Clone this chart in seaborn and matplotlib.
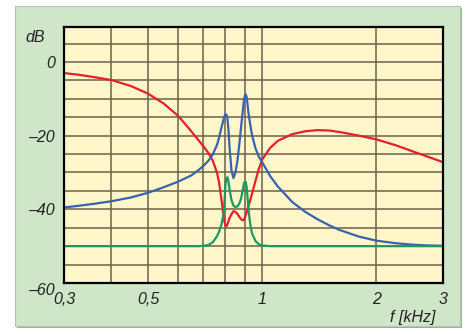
import numpy as np
import pandas as pd
import seaborn as sns
import matplotlib.pyplot as plt
from matplotlib.patches import Rectangle
from matplotlib.ticker import FixedLocator, FixedFormatter, NullLocator

# frequency points in kHz
freq = [0.30, 0.33, 0.36, 0.40, 0.45,
        0.50, 0.55, 0.60, 0.65, 0.68,
        0.70, 0.72, 0.74, 0.76, 0.77,
        0.78, 0.79, 0.795, 0.80, 0.805,
        0.81, 0.815, 0.82, 0.83, 0.84,
        0.85, 0.86, 0.87, 0.88, 0.89,
        0.895, 0.90, 0.905, 0.91, 0.915,
        0.92, 0.93, 0.94, 0.96, 0.98,
        1.00, 1.05, 1.10, 1.20, 1.30,
        1.40, 1.50, 1.60, 1.80, 2.00,
        2.25, 2.50, 2.75, 3.00]

red_db = [-3.0, -3.5, -4.1, -4.9, -6.5,
          -8.6, -11.3, -14.6, -18.8, -21.3,
          -22.9, -24.6, -26.7, -30.0, -32.8,
          -37.0, -41.5, -43.3, -44.4, -44.6,
          -44.0, -43.2, -42.4, -41.3, -40.5,
          -40.7, -41.2, -42.0, -42.7, -43.0,
          -42.8, -42.3, -41.6, -40.8, -40.0,
          -39.2, -37.5, -35.8, -32.3, -29.0,
          -26.5, -23.3, -21.4, -19.6, -18.8,
          -18.5, -18.6, -19.0, -20.0, -21.0,
          -22.6, -24.3, -25.8, -27.2]

blue_db = [-39.5, -39.0, -38.5, -37.8, -36.8,
           -35.5, -34.0, -32.5, -30.8, -29.3,
           -28.2, -26.9, -25.2, -22.5, -20.5,
           -18.0, -15.8, -14.8, -14.2, -14.3,
           -15.5, -18.5, -23.0, -29.5, -31.5,
           -30.0, -27.0, -22.5, -17.5, -12.8,
           -10.5, -9.2, -8.8, -9.5, -11.5,
           -13.8, -17.0, -19.8, -23.4, -25.7,
           -27.2, -31.0, -33.8, -38.0, -40.7,
           -42.7, -44.3, -45.6, -47.4, -48.5,
           -49.2, -49.6, -49.8, -49.9]

green_db = [-50.0, -50.0, -50.0, -50.0, -50.0,
            -50.0, -50.0, -50.0, -50.0, -50.0,
            -49.9, -49.7, -49.0, -47.3, -46.0,
            -44.3, -41.5, -38.0, -33.5, -31.5,
            -31.3, -32.5, -34.5, -37.5, -39.0,
            -39.4, -39.2, -38.5, -37.0, -34.5,
            -33.0, -32.5, -32.6, -34.0, -36.8,
            -40.0, -44.0, -46.5, -48.6, -49.5,
            -49.8, -50.0, -50.0, -50.0, -50.0,
            -50.0, -50.0, -50.0, -50.0, -50.0,
            -50.0, -50.0, -50.0, -50.0]

x_ticks = [0.3, 0.5, 1, 2, 3]
x_labels = ['0,3', '0,5', '1', '2', '3']
x_grid = [0.4, 0.5, 0.6, 0.7, 0.8, 0.9, 1, 2]
y_ticks = [-60, -40, -20, 0]
y_labels = ['\u201360', '\u201340', '\u201320', '0']

df = pd.concat([
    pd.DataFrame({'f': freq, 'dB': red_db, 'curve': 'red'}),
    pd.DataFrame({'f': freq, 'dB': blue_db, 'curve': 'blue'}),
    pd.DataFrame({'f': freq, 'dB': green_db, 'curve': 'green'}),
])
colors = {'red': '#e4202c', 'blue': '#3a62ad', 'green': '#1a9a62'}

plt.rcParams['font.family'] = ['Liberation Sans', 'DejaVu Sans']
fig = plt.figure(figsize=(4.69, 3.34), dpi=100, facecolor='white')
# green panel with a soft shadow behind the chart
fig.patches.append(Rectangle((17 / 469, 6 / 334), 445 / 469, 320 / 334,
                             transform=fig.transFigure, facecolor='#9aae98',
                             edgecolor='none', zorder=-2))
fig.patches.append(Rectangle((15 / 469, 8 / 334), 445 / 469, 320 / 334,
                             transform=fig.transFigure, facecolor='#cfe6c9',
                             edgecolor='#b3c9ae', linewidth=0.8, zorder=-1))

ax = fig.add_axes([64 / 469, 51 / 334, 379 / 469, 256 / 334])
ax.set_facecolor('#fff7c9')
ax.set_xscale('log')

grid_kw = dict(color='#6e624c', linewidth=1.4, alpha=0.8, zorder=1)
for g in x_grid:
    ax.axvline(g, **grid_kw)
for g in range(-55, 10, 5):
    ax.axhline(g, **grid_kw)

sns.lineplot(data=df, x='f', y='dB', hue='curve', palette=colors, legend=False,
             linewidth=1.6, ax=ax, zorder=3)

ax.set_xlim(0.3, 3)
ax.set_ylim(-60, 9.5)
ax.xaxis.set_major_locator(FixedLocator(x_ticks))
ax.xaxis.set_major_formatter(FixedFormatter(x_labels))
ax.xaxis.set_minor_locator(NullLocator())
ax.yaxis.set_major_locator(FixedLocator(y_ticks))
ax.yaxis.set_major_formatter(FixedFormatter(y_labels))
ax.tick_params(length=0, labelsize=11.5, colors='#222222')
ax.tick_params(axis='x', pad=6.5)
ax.tick_params(axis='y', pad=6.5)
for lab in ax.get_xticklabels() + ax.get_yticklabels():
    lab.set_fontstyle('italic')
ax.get_yticklabels()[0].set_va('top')
ax.set_xlabel('')
ax.set_ylabel('')
for sp in ax.spines.values():
    sp.set_color('black')
    sp.set_linewidth(1.6)
    sp.set_zorder(4)

ax.text(-0.05, 0.96, 'dB', transform=ax.transAxes, ha='right', va='center',
        fontsize=11.5, fontstyle='italic', color='#222222')
ax.text(0.98, -0.135, 'f [kHz]', transform=ax.transAxes, ha='right', va='center',
        fontsize=11.5, fontstyle='italic', color='#222222')

fig.savefig('out.png', dpi=100, facecolor='white')
